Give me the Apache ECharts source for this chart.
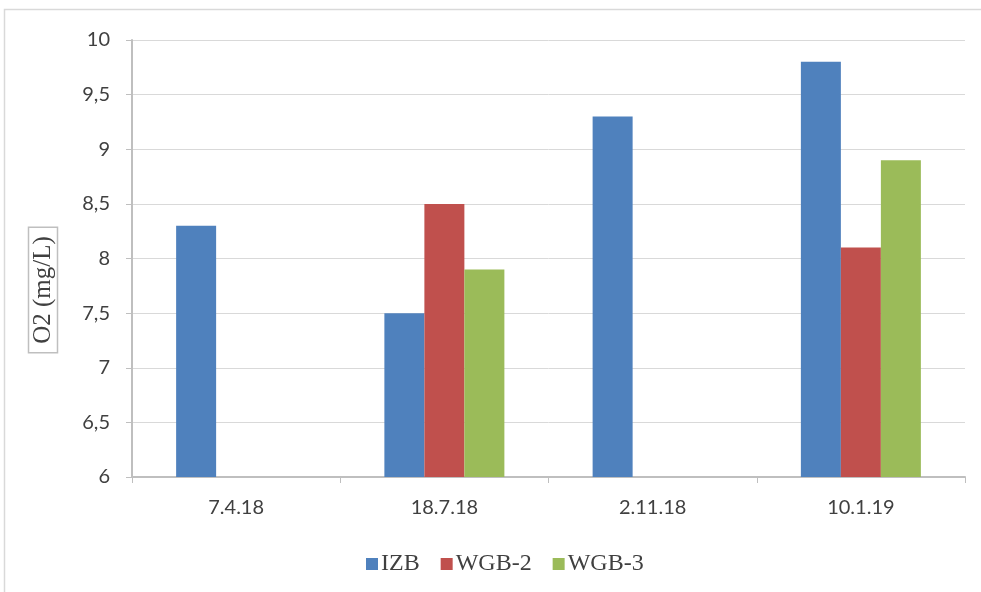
<!DOCTYPE html>
<html><head><meta charset="utf-8">
<script src="https://cdn.jsdelivr.net/npm/echarts@6/dist/echarts.min.js"></script>
<style>html,body{margin:0;padding:0;background:#fff}#c{width:981px;height:592px}</style>
</head><body><div id="c"></div>
<script>
const categories = ['7.4.18', '18.7.18', '2.11.18', '10.1.19'];
const izb = [8.3, 7.5, 9.3, 9.8];
const wgb2 = [null, 8.5, null, 8.1];
const wgb3 = [null, 7.9, null, 8.9];
const seriesNames = ['IZB', 'WGB-2', 'WGB-3'];
const colors = ['#4f81bd', '#c0504d', '#9bbb59'];
const yAxisTitle = 'O2 (mg/L)';

const chart = echarts.init(document.getElementById('c'));
const mk = (name, data, color) => ({
  name, type: 'bar', data, barWidth: 40, barGap: '0%',
  itemStyle: { color }
});
chart.setOption({
  animation: false,
  graphic: [
    { type: 'rect', shape: { x: 4.5, y: 9.5, width: 990, height: 600 },
      style: { fill: 'none', stroke: '#d9d9d9', lineWidth: 1.5 } },
    { type: 'text', x: 43, y: 290, rotation: Math.PI / 2,
      style: { text: yAxisTitle, align: 'center', verticalAlign: 'middle',
        font: '25px "Liberation Serif"', fill: '#404040',
        borderColor: '#bfbfbf', borderWidth: 1.5, padding: [3, 9, 1, 9] } }
  ],
  grid: { left: 132, right: 16, top: 40, bottom: 115 },
  legend: {
    data: seriesNames, left: 361, top: 547, itemWidth: 12, itemHeight: 12, itemGap: 21,
    icon: 'rect',
    textStyle: { fontFamily: 'Liberation Serif', fontSize: 24, color: '#404040', padding: [0, 0, 0, -2] }
  },
  xAxis: {
    type: 'category', data: categories,
    axisLine: { lineStyle: { color: '#bfbfbf', width: 2 } },
    axisTick: { show: true, length: 6, lineStyle: { color: '#bfbfbf' } },
    axisLabel: { margin: 21, fontFamily: 'Lato', fontSize: 20, color: '#404040' }
  },
  yAxis: {
    type: 'value', min: 6, max: 10, interval: 0.5,
    axisLine: { show: true, lineStyle: { color: '#bfbfbf', width: 2 } },
    axisTick: { show: true, length: 6, lineStyle: { color: '#bfbfbf' } },
    splitLine: { lineStyle: { color: '#d9d9d9' } },
    axisLabel: { margin: 22, fontFamily: 'Lato', fontSize: 20, color: '#404040',
      formatter: v => String(v).replace('.', ',') }
  },
  series: [mk(seriesNames[0], izb, colors[0]), mk(seriesNames[1], wgb2, colors[1]), mk(seriesNames[2], wgb3, colors[2])]
});
</script></body></html>
